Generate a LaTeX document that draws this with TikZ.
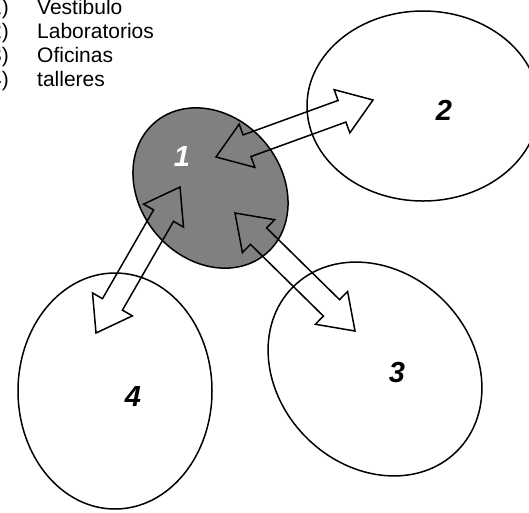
\documentclass[tikz,border=0pt]{standalone}
\usepackage{fontspec}
\setmainfont{Liberation Sans}
\usetikzlibrary{shapes.geometric,calc}
\definecolor{midgray}{RGB}{128,128,128}
\tikzset{
  ell/.style={ellipse, draw=black, line width=1.5pt, inner sep=0pt},
  blockline/.style={draw=black, line width=1.5pt, line join=miter},
  listtxt/.style={inner sep=0pt, font=\fontsize{21}{24}\selectfont},
  biglabel/.style={inner sep=0pt, font=\fontsize{29}{30}\selectfont\bfseries\itshape}
}
\newcommand\blkarrow[2]{%
  \coordinate (#1h) at ($(#1)!33pt!(#2)$);
  \coordinate (#2h) at ($(#2)!33pt!(#1)$);
  \draw[blockline] (#1) -- ($(#1h)!23pt!90:(#2)$) -- ($(#1h)!11.5pt!90:(#2)$)
    -- ($(#2h)!11.5pt!-90:(#1)$) -- ($(#2h)!23pt!-90:(#1)$) -- (#2)
    -- ($(#2h)!23pt!90:(#1)$) -- ($(#2h)!11.5pt!90:(#1)$)
    -- ($(#1h)!11.5pt!-90:(#2)$) -- ($(#1h)!23pt!-90:(#2)$) -- cycle;}
\begin{document}
\begin{tikzpicture}[x=1pt,y=-1pt]
\useasboundingbox (0,0) rectangle (529,512);
\clip (0,0) rectangle (529,512);
% list
\node[listtxt, anchor=base east] (n1) at (9,14) {1)};
\node[listtxt, anchor=base east] (n2) at (9,38) {2)};
\node[listtxt, anchor=base east] (n3) at (9,62) {3)};
\node[listtxt, anchor=base east] (n4) at (9,86) {4)};
\node[listtxt, anchor=base west] (t1) at (37,14) {Vestibulo};
\node[listtxt, anchor=base west] (t2) at (37,38) {Laboratorios};
\node[listtxt, anchor=base west] (t3) at (37,62) {Oficinas};
\node[listtxt, anchor=base west] (t4) at (37,86) {talleres};
% ellipses
\node[ell, fill=midgray, minimum width=172pt, minimum height=142pt, rotate=-50] (e1) at (210.5,188) {};
\node[ell, minimum width=232pt, minimum height=190pt] (e2) at (423,106) {};
\node[ell, minimum width=232pt, minimum height=194pt, rotate=-45] (e3) at (375,369) {};
\node[ell, minimum width=194pt, minimum height=236pt] (e4) at (115,391) {};
% arrow ends
\coordinate (p12) at (216,157);
\coordinate (q12) at (373,100);
\coordinate (p13) at (235,213);
\coordinate (q13) at (355,331);
\coordinate (p14) at (180,187);
\coordinate (q14) at (96,333);
\blkarrow{p12}{q12}
\blkarrow{p13}{q13}
\blkarrow{p14}{q14}
% labels
\node[biglabel, text=white] (l1) at (182,157) {1};
\node[biglabel] (l2) at (444,110) {2};
\node[biglabel] (l3) at (397,373) {3};
\node[biglabel] (l4) at (133,397) {4};
\end{tikzpicture}
\end{document}
